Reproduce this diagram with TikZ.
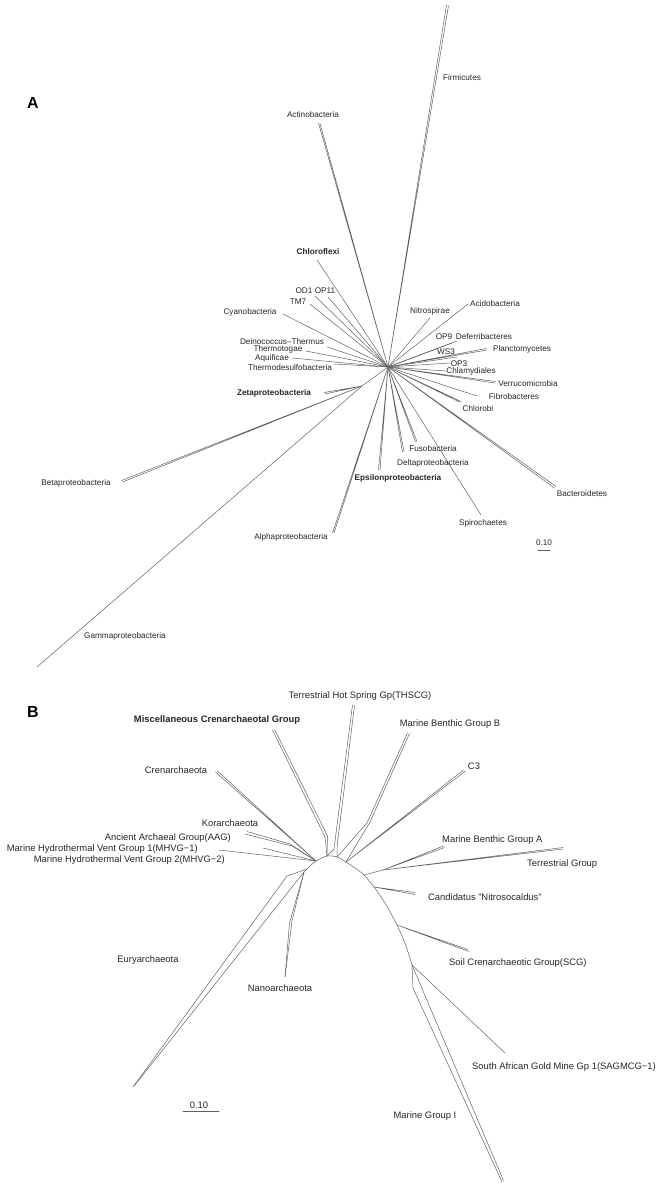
\documentclass[tikz,border=0pt]{standalone}
\usepackage{fontspec}
\setmainfont{Liberation Sans}
\begin{document}
\begin{tikzpicture}[x=1pt,y=-1pt,
  br/.style={draw=black!62, line width=0.5pt, line join=round, line cap=round},
  la/.style={font=\fontsize{8.2}{9}\selectfont, text=black!85, inner sep=0pt, text height=5.9pt, text depth=0pt},
  lab/.style={la, font=\fontsize{8.2}{9}\selectfont\bfseries},
  lb/.style={font=\fontsize{9.4}{10}\selectfont, text=black!85, inner sep=0pt, text height=6.8pt, text depth=0pt},
  lbb/.style={lb, font=\fontsize{9.4}{10}\selectfont\bfseries},
  panel/.style={font=\fontsize{16}{16}\selectfont\bfseries, inner sep=0pt}]
\useasboundingbox (0,0) rectangle (658,1188);

% ================= Panel A =================
\node[panel] (pA) at (33,103) {A};
\coordinate (cA) at (388,367);
\coordinate (cZ) at (362,386);

\coordinate (tFir1) at (446.5,5);   \coordinate (tFir2) at (448.5,5.5);
\coordinate (tAct1) at (318.5,123); \coordinate (tAct2) at (320,123.5);
\coordinate (tChl) at (317,260);
\coordinate (tOD1) at (315,296);
\coordinate (tOP11) at (328,297);
\coordinate (tTM7) at (310,304);
\coordinate (tCya) at (283,314);
\coordinate (tDei) at (327,347);
\coordinate (tThe) at (306,351);
\coordinate (tAqu) at (292,358);
\coordinate (tTds) at (334,364);
\coordinate (tZet1) at (324,392.5); \coordinate (tZet2) at (325,394);
\coordinate (tBet1) at (121.5,480.5); \coordinate (tBet2) at (122.5,482);
\coordinate (tGam) at (37,667);
\coordinate (tAlp1) at (332.5,533); \coordinate (tAlp2) at (334,533);
\coordinate (tEps1) at (378.5,470); \coordinate (tEps2) at (380,470);
\coordinate (tDel1) at (402.5,452); \coordinate (tDel2) at (404,451.5);
\coordinate (tFus1) at (415.5,442); \coordinate (tFus2) at (417,441.5);
\coordinate (tSpi) at (481,515);
\coordinate (tBac1) at (554.5,488); \coordinate (tBac2) at (556,486.5);
\coordinate (tChb1) at (459.5,402); \coordinate (tChb2) at (461,401.5);
\coordinate (tFib) at (477,396);
\coordinate (tVer1) at (495,383); \coordinate (tVer2) at (495.5,381.5);
\coordinate (tChd) at (446,371);
\coordinate (tOP3) at (450,363);
\coordinate (tPla1) at (487,350); \coordinate (tPla2) at (486.5,348.5);
\coordinate (tWS3) at (457,357);
\coordinate (tOP9) at (452,343);
\coordinate (tDef) at (457,341);
\coordinate (tNit) at (430,318);
\coordinate (tAci) at (468,304);

\draw[br] (tFir1) -- (cA) -- (tFir2);
\draw[br] (tAct1) -- (cA) -- (tAct2);
\draw[br] (tChl) -- (cA);
\draw[br] (tOD1) -- (cA);
\draw[br] (tOP11) -- (cA);
\draw[br] (tTM7) -- (cA);
\draw[br] (tCya) -- (cA);
\draw[br] (tDei) -- (cA);
\draw[br] (tThe) -- (cA);
\draw[br] (tAqu) -- (cA);
\draw[br] (tTds) -- (cA);
\draw[br] (cA) -- (cZ);
\draw[br] (tZet1) -- (cZ) -- (tZet2);
\draw[br] (tBet1) -- (cZ) -- (tBet2);
\draw[br] (tGam) -- (cZ);
\draw[br] (tAlp1) -- (cA) -- (tAlp2);
\draw[br] (tEps1) -- (cA) -- (tEps2);
\draw[br] (tDel1) -- (cA) -- (tDel2);
\draw[br] (tFus1) -- (cA) -- (tFus2);
\draw[br] (tSpi) -- (cA);
\draw[br] (tBac1) -- (cA) -- (tBac2);
\draw[br] (tChb1) -- (cA) -- (tChb2);
\draw[br] (tFib) -- (cA);
\draw[br] (tVer1) -- (cA) -- (tVer2);
\draw[br] (tChd) -- (cA);
\draw[br] (tOP3) -- (cA);
\draw[br] (tPla1) -- (cA) -- (tPla2);
\draw[br] (tWS3) -- (cA);
\draw[br] (tOP9) -- (cA);
\draw[br] (tDef) -- (cA);
\draw[br] (tNit) -- (cA);
\draw[br] (tAci) -- (cA);

\node[la] (lFir) at (462,78) {Firmicutes};
\node[la] (lAct) at (313,115) {Actinobacteria};
\node[lab] (lChl) at (318,252) {Chloroflexi};
\node[la] (lOD1) at (304,291) {OD1};
\node[la] (lOP11) at (325,291) {OP11};
\node[la] (lTM7) at (298,302) {TM7};
\node[la] (lCya) at (250,312) {Cyanobacteria};
\node[la] (lDei) at (282,342) {Deinococcus–Thermus};
\node[la] (lThe) at (278,349) {Thermotogae};
\node[la] (lAqu) at (272,358) {Aquificae};
\node[la] (lTds) at (290,368) {Thermodesulfobacteria};
\node[lab] (lZet) at (274,393) {Zetaproteobacteria};
\node[la] (lBet) at (76,483) {Betaproteobacteria};
\node[la] (lGam) at (125,636) {Gammaproteobacteria};
\node[la] (lAlp) at (291,537) {Alphaproteobacteria};
\node[lab] (lEps) at (398,478) {Epsilonproteobacteria};
\node[la] (lDel) at (433,463) {Deltaproteobacteria};
\node[la] (lFus) at (433,449) {Fusobacteria};
\node[la] (lSpi) at (483,523) {Spirochaetes};
\node[la] (lBac) at (582,494) {Bacteroidetes};
\node[la] (lChb) at (478,409) {Chlorobi};
\node[la] (lFib) at (514,397) {Fibrobacteres};
\node[la] (lVer) at (528,384) {Verrucomicrobia};
\node[la] (lChd) at (471,371) {Chlamydiales};
\node[la] (lOP3) at (459,364) {OP3};
\node[la] (lPla) at (522,349) {Planctomycetes};
\node[la] (lWS3) at (446,352) {WS3};
\node[la] (lOP9) at (444,337) {OP9};
\node[la] (lDef) at (484,337) {Deferribacteres};
\node[la] (lNit) at (430,311) {Nitrospirae};
\node[la] (lAci) at (495,304) {Acidobacteria};

\node[la] (sA) at (544,543) {0.10};
\coordinate (sA1) at (538,550); \coordinate (sA2) at (550,550);
\draw[br, line width=0.7pt] (sA1) -- (sA2);

% ================= Panel B =================
\node[panel] (pB) at (33,712) {B};

\coordinate (b0) at (307,869);
\coordinate (b1) at (316,861);
\coordinate (b2) at (327,856);
\coordinate (b3) at (337,857);
\coordinate (b4) at (346,862);
\coordinate (b5) at (355,868);
\coordinate (b6) at (364,875);
\coordinate (b7) at (374,887);
\coordinate (b8) at (385,903);
\coordinate (b9) at (397,925);
\coordinate (b10) at (406,946);
\coordinate (b11) at (412,965);
\draw[br] plot[smooth, tension=0.5] coordinates {(b0) (b1) (b2) (b3) (b4) (b5) (b6) (b7) (b8) (b9) (b10) (b11)};

% Euryarchaeota
\coordinate (e1) at (287,876);
\coordinate (e2) at (304,872);
\coordinate (tEu1) at (133,1087); \coordinate (tEu2) at (134.5,1085.5);
\draw[br] (b0) -- (e1) -- (tEu1);
\draw[br] (b0) -- (e2) -- (tEu2);
% Nanoarchaeota
\coordinate (n1) at (292,921); \coordinate (n2) at (289.5,923);
\coordinate (tNa) at (285,977);
\draw[br] (e2) -- (n1) -- (tNa);
\draw[br] (e2) -- (n2) -- (tNa);
% MHVG / AAG / Korarchaeota
\coordinate (k1) at (292,846); \coordinate (k2) at (290,844);
\coordinate (tKo) at (247,831.5); \coordinate (tAA) at (245,834);
\coordinate (tM2) at (263,848); \coordinate (tM1) at (219,850);
\draw[br] (tKo) -- (k2) -- (b1);
\draw[br] (tAA) -- (k1) -- (b1);
\draw[br] (tM2) -- (b1);
\draw[br] (tM1) -- (b1);
% Crenarchaeota
\coordinate (tCr1) at (215.5,772); \coordinate (tCr2) at (217.5,771);
\draw[br] (tCr1) -- (b1) -- (tCr2);
% Miscellaneous Crenarchaeotal Group
\coordinate (m1) at (325,837); \coordinate (m2) at (327.5,836);
\coordinate (tMi1) at (272.5,730); \coordinate (tMi2) at (274.5,729.5);
\draw[br] (tMi1) -- (m1) -- (b2);
\draw[br] (tMi2) -- (m2) -- (b2);
% THSCG
\coordinate (h1) at (334,849); \coordinate (h2) at (337,847);
\coordinate (tTh1) at (352.5,705); \coordinate (tTh2) at (354.5,705.5);
\draw[br] (tTh1) -- (h1) -- (b2);
\draw[br] (tTh2) -- (h2) -- (b3);
% Marine Benthic Group B
\coordinate (g1) at (367,823); \coordinate (g2) at (370,822);
\coordinate (tMB1) at (407.5,733); \coordinate (tMB2) at (409.5,733.5);
\draw[br] (tMB1) -- (g1) -- (b3);
\draw[br] (tMB2) -- (g2) -- (b4);
% C3
\coordinate (tC31) at (463.5,770); \coordinate (tC32) at (465.5,771);
\draw[br] (tC31) -- (b4) -- (tC32);
% Marine Benthic Group A / Terrestrial Group
\coordinate (a1) at (383,870);
\coordinate (tMA1) at (443.5,846); \coordinate (tMA2) at (444.5,847.5);
\coordinate (tTG1) at (563,847.5); \coordinate (tTG2) at (563,849);
\draw[br] (b6) -- (a1);
\draw[br] (tMA1) -- (a1) -- (tMA2);
\draw[br] (tTG1) -- (a1) -- (tTG2);
% Candidatus Nitrosocaldus
\coordinate (tCa1) at (415,892.5); \coordinate (tCa2) at (415,894.5);
\draw[br] (tCa1) -- (b7) -- (tCa2);
% SCG
\coordinate (tSC1) at (468,949.5); \coordinate (tSC2) at (469,951.5);
\draw[br] (tSC1) -- (b9) -- (tSC2);
% SAGMCG-1
\coordinate (tSA) at (505,1053);
\draw[br] (b11) -- (tSA);
% Marine Group I
\coordinate (q1) at (413,988);
\coordinate (tMG1) at (502,1182); \coordinate (tMG2) at (503.5,1180.5);
\draw[br] (b11) -- (q1) -- (tMG1);
\draw[br] (b11) -- (tMG2);

\node[lb] (lTh) at (360,695) {Terrestrial Hot Spring Gp(THSCG)};
\node[lbb] (lMi) at (217,719) {Miscellaneous Crenarchaeotal Group};
\node[lb] (lMB) at (450,723) {Marine Benthic Group B};
\node[lb] (lC3) at (474,766) {C3};
\node[lb] (lCr) at (176,770) {Crenarchaeota};
\node[lb] (lKo) at (230,823) {Korarchaeota};
\node[lb, anchor=east] (lAA) at (231,837) {Ancient Archaeal Group(AAG)};
\node[lb, anchor=east] (lM1) at (198,848) {Marine Hydrothermal Vent Group 1(MHVG−1)};
\node[lb, anchor=east] (lM2) at (225,859) {Marine Hydrothermal Vent Group 2(MHVG−2)};
\node[lb, anchor=west] (lMA) at (442,839) {Marine Benthic Group A};
\node[lb, anchor=west] (lTG) at (527,863) {Terrestrial Group};
\node[lb, anchor=west] (lCa) at (428,897) {Candidatus "Nitrosocaldus"};
\node[lb, anchor=west] (lSC) at (449,962) {Soil Crenarchaeotic Group(SCG)};
\node[lb] (lEu) at (148,959) {Euryarchaeota};
\node[lb] (lNa) at (280,988) {Nanoarchaeota};
\node[lb, anchor=east] (lSA) at (656,1066) {South African Gold Mine Gp 1(SAGMCG−1)};
\node[lb] (lMG) at (425,1115) {Marine Group I};

\node[lb] (sB) at (199,1105) {0.10};
\coordinate (sB1) at (183,1111); \coordinate (sB2) at (219,1111);
\draw[br, line width=0.7pt] (sB1) -- (sB2);
\end{tikzpicture}
\end{document}
